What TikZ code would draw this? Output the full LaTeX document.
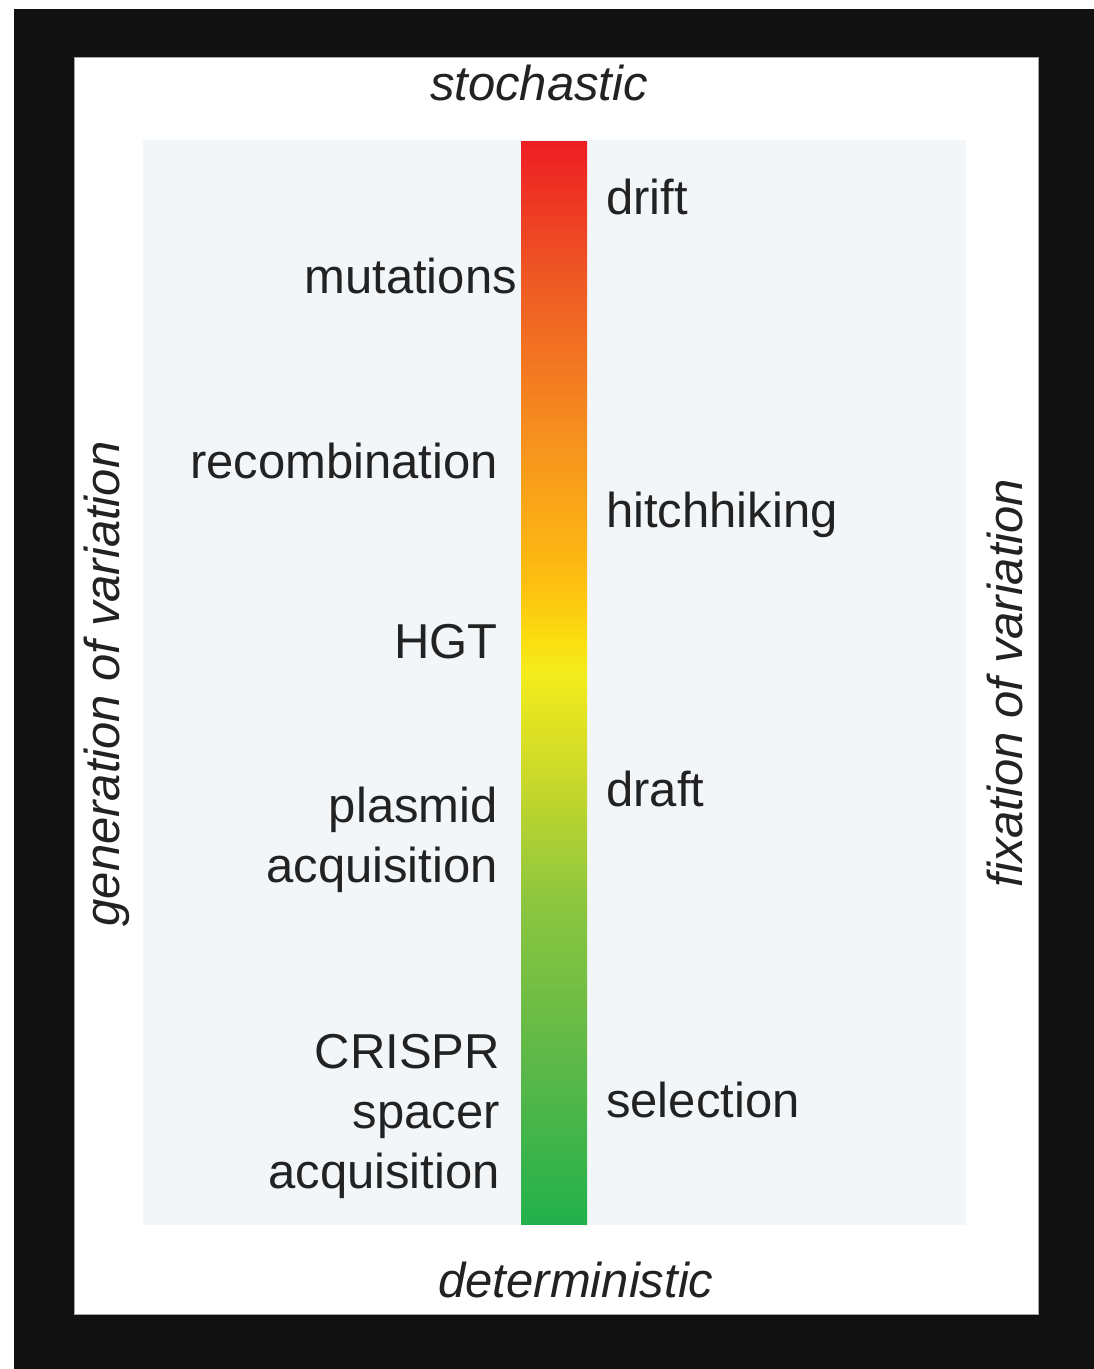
\documentclass[tikz,border=0pt]{standalone}
\usepackage{fontspec}
\setmainfont{Liberation Sans}
\definecolor{frameblack}{HTML}{111111}
\definecolor{panelbg}{HTML}{F3F6F9}
\definecolor{txt}{HTML}{222222}
\definecolor{cA}{HTML}{22B14C}
\definecolor{cB}{HTML}{5DB848}
\definecolor{cC}{HTML}{8DC63F}
\definecolor{cD}{HTML}{C9D82A}
\definecolor{cE}{HTML}{F4EC1C}
\definecolor{cF}{HTML}{FBDD10}
\definecolor{cG}{HTML}{FDC010}
\definecolor{cH}{HTML}{F7931E}
\definecolor{cI}{HTML}{EE5A24}
\definecolor{cJ}{HTML}{EE1D23}
% TikZ maps the path onto the middle 50bp of the shading: stops at 25 + p/2
\pgfdeclareverticalshading{barshade}{100bp}{color(0bp)=(cA); color(25bp)=(cA); color(32.5bp)=(cB); color(40bp)=(cC); color(45.5bp)=(cD); color(50.5bp)=(cE); color(52bp)=(cF); color(54.5bp)=(cG); color(61bp)=(cH); color(68.5bp)=(cI); color(75bp)=(cJ); color(100bp)=(cJ)}
\tikzset{
  lbl/.style={inner sep=0pt, text=txt, font=\fontsize{49}{60}\selectfont},
  leftlbl/.style={lbl, anchor=base east, align=right},
  rightlbl/.style={lbl, anchor=base west, align=left},
  axlbl/.style={lbl, font=\fontsize{49}{60}\selectfont\itshape},
}
\begin{document}
\begin{tikzpicture}[x=1pt,y=-1pt]
\useasboundingbox (0,0) rectangle (1094,1369);
\fill[white] (0,0) rectangle (1094,1369);
\fill[frameblack] (14,9) rectangle (1094,1369);
\draw[fill=white, draw=gray!70, line width=0.8pt] (74,57) rectangle (1038,1314);
\fill[panelbg] (143,140) rectangle (966,1225);
\shade[shading=barshade] (521,141) rectangle (587,1224);
% axis labels
\node[axlbl, anchor=base] (stoch) at (539,100) {stochastic};
\node[axlbl, anchor=base] (determ) at (576,1297) {deterministic};
\node[axlbl, rotate=90] (gen) at (107,684) {generation of variation};
\node[axlbl, rotate=90] (fix) at (1005,683) {fixation of variation};
% left labels
\node[leftlbl] (mut) at (517,293) {mutations};
\node[leftlbl] (recomb) at (498,478) {recombination};
\node[leftlbl] (hgt) at (498,658) {HGT};
\node[leftlbl] (plasmid) at (498,882) {plasmid\\acquisition};
\node[leftlbl] (crispr) at (500,1188) {CRISPR\\spacer\\acquisition};
% right labels
\node[rightlbl] (drift) at (606,214) {drift};
\node[rightlbl] (hitch) at (606,527) {hitchhiking};
\node[rightlbl] (draft) at (606,806) {draft};
\node[rightlbl] (sel) at (606,1117) {selection};
\end{tikzpicture}
\end{document}
